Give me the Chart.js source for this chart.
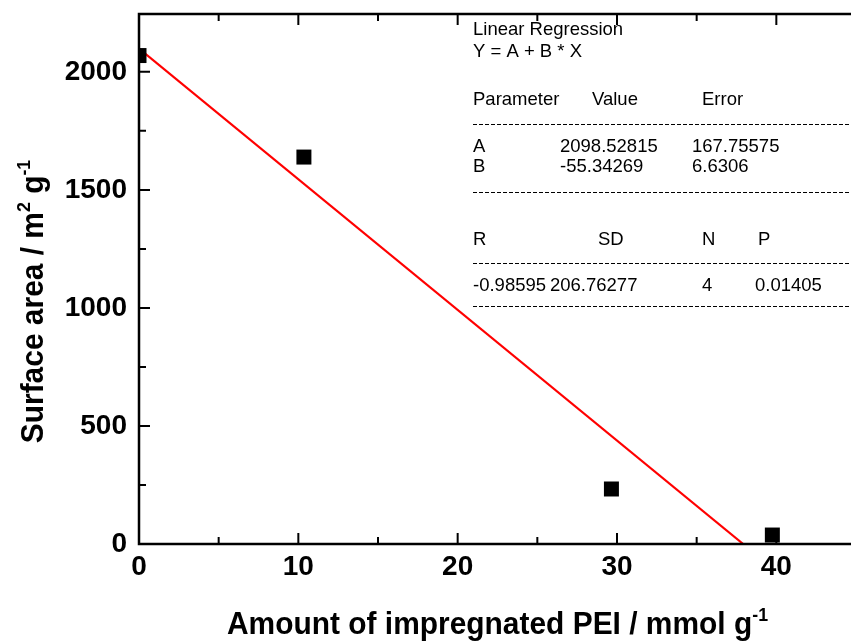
<!DOCTYPE html>
<html>
<head>
<meta charset="utf-8">
<script src="https://cdn.jsdelivr.net/npm/chart.js@4"></script>
<style>
  html, body { margin: 0; padding: 0; background: #fff; overflow: hidden; }
  #wrap { width: 900px; height: 644px; }
</style>
</head>
<body>
<div id="wrap"><canvas id="grafico" width="900" height="644"></canvas></div>
<script>
// Datos
const cargaPEI = [0, 10.35, 29.65, 39.75];
const areaSuperficial = [2069, 1639, 233, 38];
// Recta de regresion (extremos: x = 0 y corte con y = 0)
const ajusteX = [0, 37.92];
const ajusteY = [2098.53, 0];
const ticksX = [0, 10, 20, 30, 40];
const ticksY = [0, 500, 1000, 1500, 2000];

const fuente = "'Liberation Sans', Arial, sans-serif";

// Marco del grafico con ticks hacia adentro
const marcoEjes = {
  id: 'marcoEjes',
  afterDraw(chart) {
    const ctx = chart.ctx;
    const a = chart.chartArea;
    const x = chart.scales.x, y = chart.scales.y;
    ctx.save();
    ctx.strokeStyle = '#000';
    ctx.lineWidth = 2.5;
    ctx.strokeRect(a.left, a.top, a.right - a.left, a.bottom - a.top);
    ctx.lineWidth = 2;
    ctx.beginPath();
    for (let v = 5; v < x.max; v += 5) {
      const px = x.getPixelForValue(v);
      const largo = v % 10 === 0 ? 11 : 7;
      ctx.moveTo(px, a.bottom); ctx.lineTo(px, a.bottom - largo);
      ctx.moveTo(px, a.top); ctx.lineTo(px, a.top + largo);
    }
    for (let v = 250; v < y.max; v += 250) {
      const py = y.getPixelForValue(v);
      const largo = v % 500 === 0 ? 11 : 7;
      ctx.moveTo(a.left, py); ctx.lineTo(a.left + largo, py);
    }
    ctx.stroke();
    ctx.restore();
  }
};

// Texto con superindices (titulos de ejes)
function textoRico(ctx, partes, cx, cy, rot, escala) {
  const fNormal = 'bold 32px ' + fuente;
  const fSup = 'bold 19px ' + fuente;
  ctx.save();
  ctx.translate(cx, cy);
  ctx.rotate(rot);
  ctx.scale(escala, 1);
  ctx.fillStyle = '#000';
  ctx.textBaseline = 'alphabetic';
  ctx.textAlign = 'left';
  let total = 0;
  partes.forEach(p => { ctx.font = p.sup ? fSup : fNormal; total += ctx.measureText(p.t).width; });
  let px = -total / 2;
  partes.forEach(p => {
    ctx.font = p.sup ? fSup : fNormal;
    ctx.fillText(p.t, px, p.sup ? -13 : 0);
    px += ctx.measureText(p.t).width;
  });
  ctx.restore();
}

const titulos = {
  id: 'titulos',
  afterDraw(chart) {
    const ctx = chart.ctx;
    const a = chart.chartArea;
    textoRico(ctx, [{ t: 'Amount of impregnated PEI / mmol g' }, { t: '-1', sup: true }],
      (a.left + a.right) / 2, 634, 0, 0.935);
    textoRico(ctx, [{ t: 'Surface area / m' }, { t: '2', sup: true }, { t: ' g' }, { t: '-1', sup: true }],
      43, 301.5, -Math.PI / 2, 0.935);
  }
};

// Tabla de resultados de la regresion lineal
const tablaRegresion = {
  id: 'tablaRegresion',
  afterDraw(chart) {
    const ctx = chart.ctx;
    ctx.save();
    ctx.fillStyle = '#000';
    ctx.font = '18.5px ' + fuente;
    ctx.textBaseline = 'middle';
    ctx.textAlign = 'left';
    const filas = [
      ['Linear Regression', 473, 30],
      ['Y = A + B * X', 473, 52],
      ['Parameter', 473, 100], ['Value', 592, 100], ['Error', 702, 100],
      ['A', 473, 147], ['2098.52815', 560, 147], ['167.75575', 692, 147],
      ['B', 473, 167], ['-55.34269', 560, 167], ['6.6306', 692, 167],
      ['R', 473, 240], ['SD', 598, 240], ['N', 702, 240], ['P', 758, 240],
      ['-0.98595', 473, 286], ['206.76277', 550, 286], ['4', 702, 286], ['0.01405', 755, 286]
    ];
    filas.forEach(f => ctx.fillText(f[0], f[1], f[2]));
    ctx.strokeStyle = '#000';
    ctx.lineWidth = 1;
    ctx.setLineDash([4, 2]);
    [124.5, 192.5, 263.5, 306.5].forEach(yy => {
      ctx.beginPath();
      ctx.moveTo(473, yy);
      ctx.lineTo(900, yy);
      ctx.stroke();
    });
    ctx.restore();
  }
};

const ctx = document.getElementById('grafico');
new Chart(ctx, {
  type: 'scatter',
  data: {
    datasets: [{
      label: 'Surface area',
      data: cargaPEI.map((v, i) => ({ x: v, y: areaSuperficial[i] })),
      pointStyle: 'rect',
      pointRadius: 10.6,
      backgroundColor: '#000',
      borderWidth: 0,
      clip: 0
    }, {
      label: 'Linear fit',
      data: ajusteX.map((v, i) => ({ x: v, y: ajusteY[i] })),
      showLine: true,
      borderColor: '#ff0000',
      borderWidth: 2.2,
      pointRadius: 0,
      clip: 0
    }]
  },
  options: {
    responsive: false,
    animation: false,
    layout: { padding: { top: 14, right: 44, left: 0, bottom: 0 } },
    plugins: {
      legend: { display: false },
      tooltip: { enabled: false }
    },
    scales: {
      x: {
        type: 'linear',
        min: 0,
        max: 45,
        grid: { display: false, drawTicks: false },
        border: { display: false },
        ticks: {
          color: '#000',
          padding: 6,
          maxRotation: 0,
          font: { family: fuente, size: 28, weight: 'bold' },
          callback: v => String(v)
        },
        afterBuildTicks: s => { s.ticks = ticksX.map(v => ({ value: v })); },
        afterFit: s => { s.height = 100; s.paddingLeft = 0; s.paddingRight = 0; }
      },
      y: {
        type: 'linear',
        min: 0,
        max: 2245,
        grid: { display: false, drawTicks: false },
        border: { display: false },
        ticks: {
          color: '#000',
          padding: 12,
          font: { family: fuente, size: 28, weight: 'bold' },
          callback: v => String(v)
        },
        afterBuildTicks: s => { s.ticks = ticksY.map(v => ({ value: v })); },
        afterFit: s => { s.width = 139; s.paddingTop = 0; s.paddingBottom = 0; }
      }
    }
  },
  plugins: [marcoEjes, titulos, tablaRegresion]
});
</script>
</body>
</html>
